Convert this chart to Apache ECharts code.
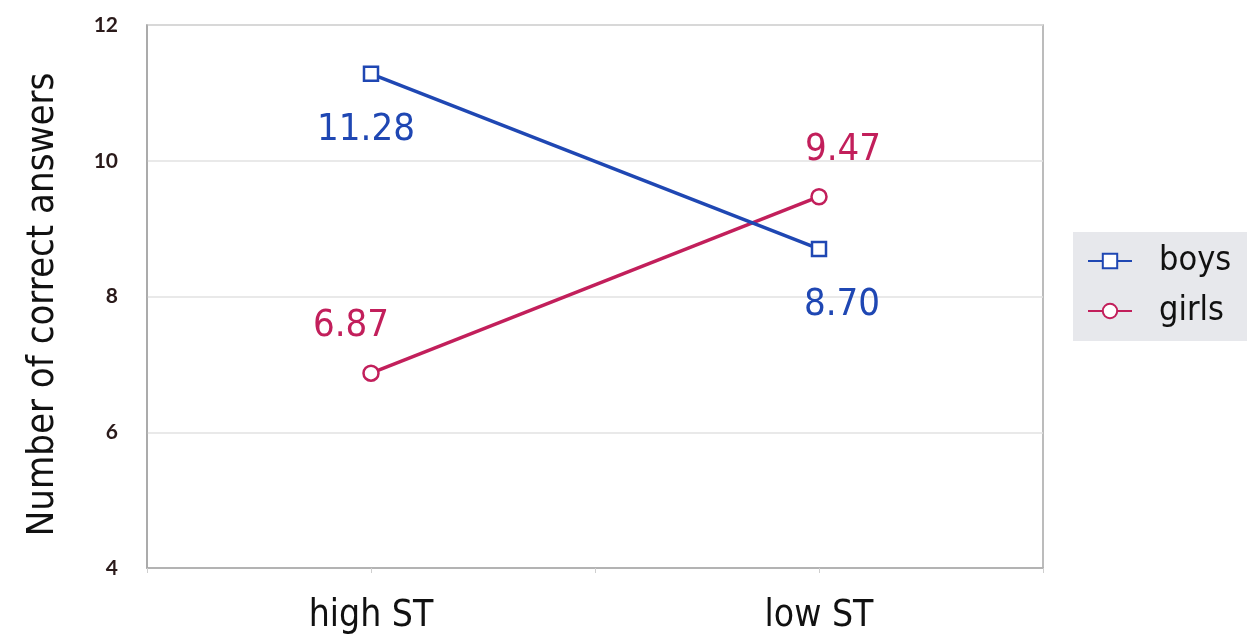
<!DOCTYPE html>
<html>
<head>
<meta charset="utf-8">
<script src="https://cdn.jsdelivr.net/npm/echarts@6/dist/echarts.min.js"></script>
<style>
  html, body { margin: 0; padding: 0; background: #fff; }
  #chart { width: 1247px; height: 636px; }
</style>
</head>
<body>
<div id="chart"></div>
<script>
// Mean number of correct answers by stereotype-threat condition
const categories = ['high ST', 'low ST'];
const boys = [11.28, 8.70];
const girls = [6.87, 9.47];
const yTicks = [4, 6, 8, 10, 12];

const BLUE = '#1f47b3';
const RED = '#c21f5b';
const FONT = '"Liberation Sans Narrow", "DejaVu Sans Condensed", Lato, sans-serif';
const TICK_FONT = 'Lato, "Open Sans", sans-serif';

// horizontal nudges for the value labels so they clear the crossing lines
const boysLabelShift = [-5, 23];
const girlsLabelShift = [-20, 24];

// categories sit at x = 1, 2 on a value axis spanning 0.5..2.5
const toPoints = (vals, shifts) => vals.map((v, i) => ({
  value: [i + 1, v],
  label: { offset: [shifts[i], 0] }
}));

const chart = echarts.init(document.getElementById('chart'), null, { renderer: 'canvas' });
chart.setOption({
  animation: false,
  grid: {
    left: 147, right: 204, top: 25, bottom: 68,
    show: true, borderColor: '#a6a6a6', borderWidth: 1.5, backgroundColor: 'transparent'
  },
  legend: {
    orient: 'vertical',
    left: 1073, top: 232,
    padding: [12, 40, 13, 14],
    backgroundColor: '#e7e8ec',
    itemWidth: 44, itemHeight: 18, itemGap: 16,
    textStyle: { fontFamily: FONT, fontSize: 34, color: '#111', padding: [0, 0, 0, 22] },
    data: ['boys', 'girls']
  },
  xAxis: {
    type: 'value',
    min: 0.5, max: 2.5, interval: 0.5,
    axisLine: { show: true, lineStyle: { color: '#a6a6a6', width: 1.5 } },
    axisTick: { show: true, length: 5, lineStyle: { color: '#cfcfcf' } },
    splitLine: { show: false },
    axisLabel: {
      fontFamily: FONT, fontSize: 37, color: '#111', margin: 30,
      showMinLabel: true, showMaxLabel: true,
      formatter: v => (Number.isInteger(v) && categories[v - 1]) ? categories[v - 1] : ''
    }
  },
  yAxis: {
    type: 'value',
    min: yTicks[0], max: yTicks[yTicks.length - 1], interval: 2,
    name: 'Number of correct answers',
    nameLocation: 'middle', nameGap: 85, nameRotate: 90,
    nameTextStyle: { fontFamily: FONT, fontSize: 38, color: '#111', padding: [0, 0, 0, -16] },
    axisLine: { show: true, lineStyle: { color: '#a6a6a6', width: 1.5 } },
    axisTick: { show: false },
    splitLine: { show: true, lineStyle: { color: '#e2e2e2', width: 1.5 } },
    axisLabel: { fontFamily: TICK_FONT, fontSize: 21, fontWeight: 'bold', color: '#2a1a1a', margin: 29 }
  },
  series: [
    {
      name: 'boys', type: 'line',
      data: toPoints(boys, boysLabelShift),
      symbol: 'rect', symbolSize: 14, showAllSymbol: true,
      itemStyle: { color: '#fff', borderColor: BLUE, borderWidth: 2.5 },
      lineStyle: { color: BLUE, width: 3.5 },
      label: {
        show: true, position: 'bottom', distance: 29,
        fontFamily: FONT, fontSize: 38, color: BLUE,
        formatter: p => p.value[1].toFixed(2)
      },
      z: 3
    },
    {
      name: 'girls', type: 'line',
      data: toPoints(girls, girlsLabelShift),
      symbol: 'circle', symbolSize: 15, showAllSymbol: true,
      itemStyle: { color: '#fff', borderColor: RED, borderWidth: 2.5 },
      lineStyle: { color: RED, width: 3.5 },
      label: {
        show: true, position: 'top', distance: 19,
        fontFamily: FONT, fontSize: 38, color: RED,
        formatter: p => p.value[1].toFixed(2)
      },
      z: 2
    }
  ]
});
</script>
</body>
</html>
